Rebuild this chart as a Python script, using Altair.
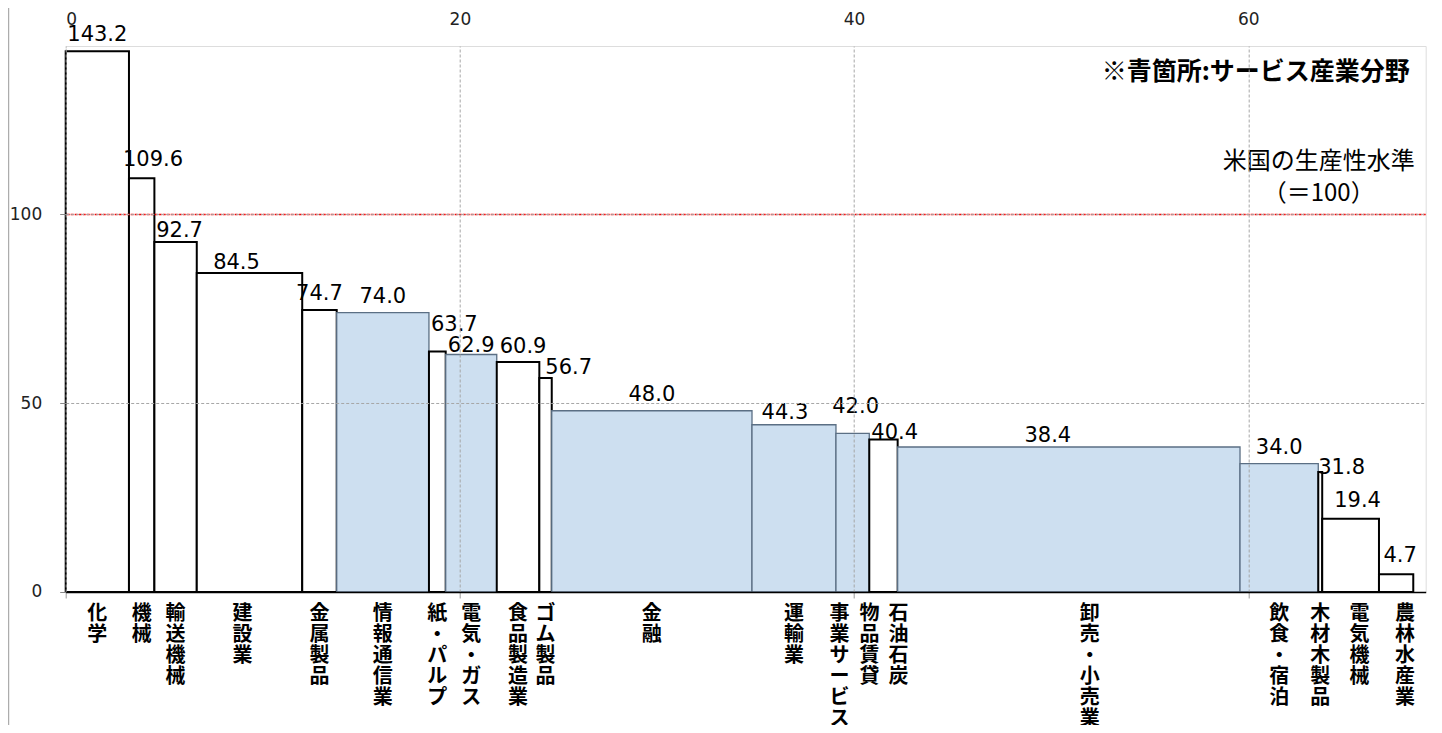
import altair as alt
import pandas as pd

# ---- data ----
categories = ["化学", "機械", "輸送機械", "建設業", "金属製品", "情報通信業", "紙・パルプ",
              "電気・ガス", "食品製造業", "ゴム製品", "金融", "運輸業", "事業サービス・物品賃貸",
              "石油石炭", "卸売・小売業", "飲食・宿泊", "木材木製品", "電気機械", "農林水産業"]
productivity = [143.2, 109.6, 92.7, 84.5, 74.7, 74.0, 63.7, 62.9, 60.9, 56.7,
                48.0, 44.3, 42.0, 40.4, 38.4, 34.0, 31.8, 19.4, 4.7]
share = [3.21, 1.29, 2.15, 5.35, 1.75, 4.68, 0.85, 2.59, 2.16, 0.63,
         10.16, 4.26, 1.69, 1.44, 17.37, 3.97, 0.20, 2.88, 1.74]
sector = ["mfg", "mfg", "mfg", "mfg", "mfg", "svc", "mfg", "svc", "mfg", "mfg",
          "svc", "svc", "svc", "mfg", "svc", "svc", "mfg", "mfg", "mfg"]
label_columns = [["化学"], ["機械"], ["輸送機械"], ["建設業"], ["金属製品"], ["情報通信業"],
                 ["紙・パルプ"], ["電気・ガス"], ["食品製造業"], ["ゴム製品"], ["金融"],
                 ["運輸業"], ["事業サービス", "物品賃貸"], ["石油石炭"], ["卸売・小売業"],
                 ["飲食・宿泊"], ["木材木製品"], ["電気機械"], ["農林水産業"]]
x_ticks = [0, 20, 40, 60]
y_ticks = [0, 50, 100]
us_level = [100]
note_service = "※青箇所:サービス産業分野"
note_us = ["米国の生産性水準", "（＝100）"]

# ---- layout / style ----
W, H = 1360, 546
X_MAX, Y_MAX = 69, 144.6
PX_X, PX_Y = W / X_MAX, H / Y_MAX
BLUE = "#CDDFF0"
JP = "Noto Sans CJK JP"
NUM = "DejaVu Sans"
# label nudges in pixels (style only): category axis labels dx
label_dx = {"建設業": -7, "事業サービス": -13, "物品賃貸": 17, "石油石炭": 15,
            "卸売・小売業": 21, "電気機械": 9, "農林水産業": 9}
# value label nudges: (dx px, gap above bar top px)
value_nudge = {"機械": (-6, 12), "輸送機械": (4, 5), "建設業": (-13, 4), "紙・パルプ": (2, 20),
               "電気・ガス": (0, 2), "食品製造業": (5, 9), "ゴム製品": (6, 4), "運輸業": (-9, 6),
               "事業サービス・物品賃貸": (3, 20), "石油石炭": (2, 0), "卸売・小売業": (-21, 5),
               "木材木製品": (0, -2), "電気機械": (7, 12), "農林水産業": (4, 12)}

x0, acc = [], 0.0
for w in share:
    x0.append(acc)
    acc += w
df = pd.DataFrame({"cat": categories, "value": productivity, "w": share,
                   "sector": sector, "x0": x0})
df["x1"] = df["x0"] + df["w"]
df["xc"] = (df["x0"] + df["x1"]) / 2
df["narrow"] = df["w"] < 1.6
df["vtext"] = df["value"].map(lambda v: f"{v:.1f}")
df["ndx"] = df["cat"].map(lambda c: value_nudge.get(c, (0, 10))[0])
df["gap"] = df["cat"].map(lambda c: value_nudge.get(c, (0, 10))[1])
df["lx"] = df["x0"].where(df["narrow"], df["xc"]) + df["ndx"] / PX_X
df["ly"] = df["value"] + df["gap"] / PX_Y

rows = []
for i, cols in enumerate(label_columns):
    for c in cols:
        rows.append({"lx": df.loc[i, "xc"] + label_dx.get(c, 0) / PX_X,
                     "lab": c, "vlab": "\n".join(list(c))})
lab_df = pd.DataFrame(rows)

xs = alt.Scale(domain=[0, X_MAX], nice=False, zero=False)
ys = alt.Scale(domain=[0, Y_MAX], nice=False)

grid_kw = dict(grid=True, gridColor="#A6A6A6", gridDash=[3, 2], gridWidth=1, zindex=1)

bars = alt.Chart(df).mark_rect().encode(
    x=alt.X("x0:Q", scale=xs, title=None,
            axis=alt.Axis(orient="top", values=x_ticks, domain=False, ticks=False,
                          labelPadding=18, labelFont=NUM, labelFontSize=17,
                          labelColor="#222", **grid_kw)),
    x2="x1:Q",
    y=alt.Y("value:Q", scale=ys, title=None,
            axis=alt.Axis(orient="left", values=y_ticks, domain=False, tickColor="#888",
                          tickSize=6, labelPadding=18, labelFont=NUM, labelFontSize=17,
                          labelColor="#222", **grid_kw)),
    y2=alt.datum(0),
    fill=alt.Fill("sector:N", scale=alt.Scale(domain=["mfg", "svc"], range=["#FFFFFF", BLUE]),
                  legend=None),
    stroke=alt.Stroke("sector:N", scale=alt.Scale(domain=["mfg", "svc"], range=["#000000", "#5B6F84"]),
                      legend=None),
    strokeWidth=alt.StrokeWidth("sector:N", scale=alt.Scale(domain=["mfg", "svc"], range=[2, 1.3]),
                                legend=None),
)

us_rule = alt.Chart(pd.DataFrame({"us": us_level})).mark_rule(
    color="#FF0000", strokeDash=[3, 1], strokeWidth=1.5
).encode(y=alt.Y("us:Q", scale=ys, axis=None))

val_wide = alt.Chart(df).transform_filter("!datum.narrow").mark_text(
    font=NUM, fontSize=21, color="#000", align="center", baseline="alphabetic"
).encode(x=alt.X("lx:Q", scale=xs, axis=None), y=alt.Y("ly:Q", scale=ys, axis=None),
         text="vtext:N")

val_narrow = alt.Chart(df).transform_filter("datum.narrow").mark_text(
    font=NUM, fontSize=21, color="#000", align="left", baseline="alphabetic"
).encode(x=alt.X("lx:Q", scale=xs, axis=None), y=alt.Y("ly:Q", scale=ys, axis=None),
         text="vtext:N")

# bottom axis (domain line + small ticks), carried by an invisible layer
bottom_axis = alt.Chart(df).mark_point(opacity=0).encode(
    x=alt.X("x0:Q", scale=xs, title=None,
            axis=alt.Axis(orient="bottom", values=x_ticks, labels=False, ticks=True,
                          tickSize=6, tickColor="#999", domain=True, domainColor="#000",
                          domainWidth=1.5, grid=False, zindex=2)),
    y=alt.Y("value:Q", scale=ys, axis=None),
)

cat_labels = alt.Chart(lab_df).mark_text(
    font=JP, fontSize=20, fontWeight="bold", color="#000", align="center",
    baseline="top", lineBreak="\n", lineHeight=21
).encode(x=alt.X("lx:Q", scale=xs, axis=None), y=alt.value(H + 12), text="vlab:N")

note1 = alt.Chart(pd.DataFrame({"t": [note_service]})).mark_text(
    font=JP, fontSize=25, fontWeight="bold", color="#000", align="right", baseline="alphabetic"
).encode(x=alt.value(1344), y=alt.value(34), text="t:N")

note2 = alt.Chart(pd.DataFrame({"t": [note_us]})).mark_text(
    font=JP, fontSize=24, color="#000", align="center", baseline="alphabetic", lineHeight=32
).encode(x=alt.value(1253), y=alt.value(123), text="t:N")

frame_left = alt.Chart(pd.DataFrame({"a": [0]})).mark_rule(color="#999", strokeWidth=1).encode(
    x=alt.value(-57), y=alt.value(-38), y2=alt.value(H + 133))

chart = alt.layer(
    bars, bottom_axis, us_rule, val_wide, val_narrow, cat_labels, note1, note2, frame_left
).resolve_axis(x="independent", y="independent").properties(
    width=W, height=H,
    padding={"left": 57.7, "top": 38, "right": 8, "bottom": 133},
    autosize=alt.AutoSizeParams(type="none"),
).configure_view(stroke="#333", strokeWidth=1).configure(background="#FFFFFF")

chart.save("out.html", embed_options={"renderer": "svg", "actions": False})
